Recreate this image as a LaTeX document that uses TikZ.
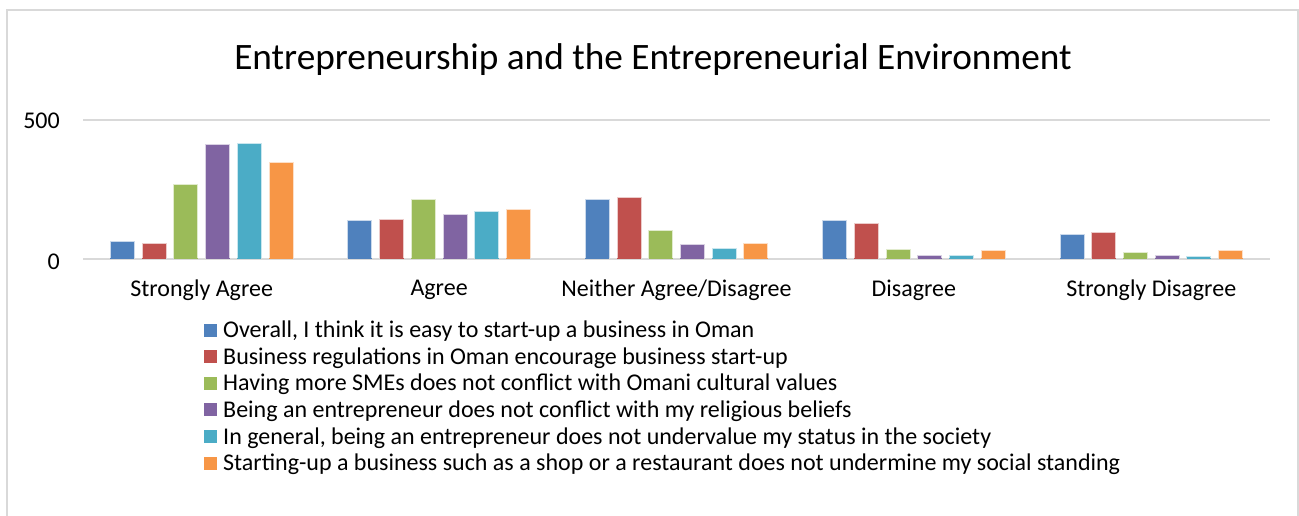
\documentclass[tikz,border=0pt]{standalone}
\usepackage{fontspec}
\setmainfont{Carlito}
\usepackage{tikz}
\usetikzlibrary{positioning}
\definecolor{barBlue}{HTML}{4F81BD}
\definecolor{barRed}{HTML}{C0504D}
\definecolor{barGreen}{HTML}{9BBB59}
\definecolor{barPurple}{HTML}{8064A2}
\definecolor{barCyan}{HTML}{4BACC6}
\definecolor{barOrange}{HTML}{F79646}
\definecolor{gridGray}{HTML}{D9D9D9}
\definecolor{frameGray}{HTML}{D9D9D9}
\tikzset{
    base/.style={font=\fontsize{24}{26}\selectfont, inner sep=0pt},
    bar/.style={line width=0.8pt},
    grid/.style={gridGray, line width=2pt},
    catlabel/.style={base, anchor=center},
    ticklabel/.style={base, anchor=east},
    swatch/.style={minimum size=13pt, inner sep=0pt},
    legtext/.style={base, anchor=west}
}
\begin{document}
\begin{tikzpicture}[x=1pt, y=-1pt]
  \useasboundingbox (0,0) rectangle (1299,515);

  % Chart frame
  \draw[frameGray, line width=1.5pt] (7,530) -- (7,10) -- (1298,10) -- (1298,530);

  % Title
  \node[base, font=\fontsize{37.3}{42}\selectfont] (title) at (653,60)
    {Entrepreneurship and the Entrepreneurial Environment};

  % Grid and axis
  \draw[grid] (83,120) -- (1270,120);
  \draw[grid] (83,259) -- (1270,259);
  \node[ticklabel] (t500) at (60,121) {500};
  \node[ticklabel] (t0) at (60,262) {0};

  % Bars: category / values of the six statements
  \foreach \cat/\a/\b/\c/\d/\e/\f in {0/63/57/268/414/415/349,
                                      1/138/144/214/160/172/177,
                                      2/215/220/103/51/37/57,
                                      3/138/128/35/12/12/30,
                                      4/90/96/23/12/10/32} {
    \foreach \v/\col [count=\j from 0] in {\a/barBlue,\b/barRed,\c/barGreen,
                                           \d/barPurple,\e/barCyan,\f/barOrange} {
      \pgfmathsetmacro\xc{83+237.4*(\cat+0.5)+31.7*(\j-2.5)}
      \fill[\col] (\xc-12,259) rectangle (\xc+12,259-0.278*\v);
      \draw[bar, draw=white!70!\col] (\xc-12,258) -- (\xc-12,259-0.278*\v)
        -- (\xc+12,259-0.278*\v) -- (\xc+12,258);
    }
  }

  % Category labels
  \node[catlabel] (sa) at (201.7,290) {Strongly Agree};
  \node[catlabel] (ag) at (439.1,290) {Agree};
  \node[catlabel] (ne) at (676.5,290) {Neither Agree/Disagree};
  \node[catlabel] (di) at (913.9,290) {Disagree};
  \node[catlabel] (sd) at (1151.3,290) {Strongly Disagree};

  % Legend
  \foreach \col/\txt [count=\k from 0] in {
      barBlue/{Overall, I think it is easy to start-up a business in Oman},
      barRed/{Business regulations in Oman encourage business start-up},
      barGreen/{Having more SMEs does not conflict with Omani cultural values},
      barPurple/{Being an entrepreneur does not conflict with my religious beliefs},
      barCyan/{In general, being an entrepreneur does not undervalue my status in the society},
      barOrange/{Starting-up a business such as a shop or a restaurant does not undermine my social standing}} {
    \node[swatch, fill=\col] (key\k) at (210.5,330+26.6*\k) {};
    \node[legtext] (leg\k) at (223,331.5+26.6*\k) {\txt};
  }
\end{tikzpicture}
\end{document}
